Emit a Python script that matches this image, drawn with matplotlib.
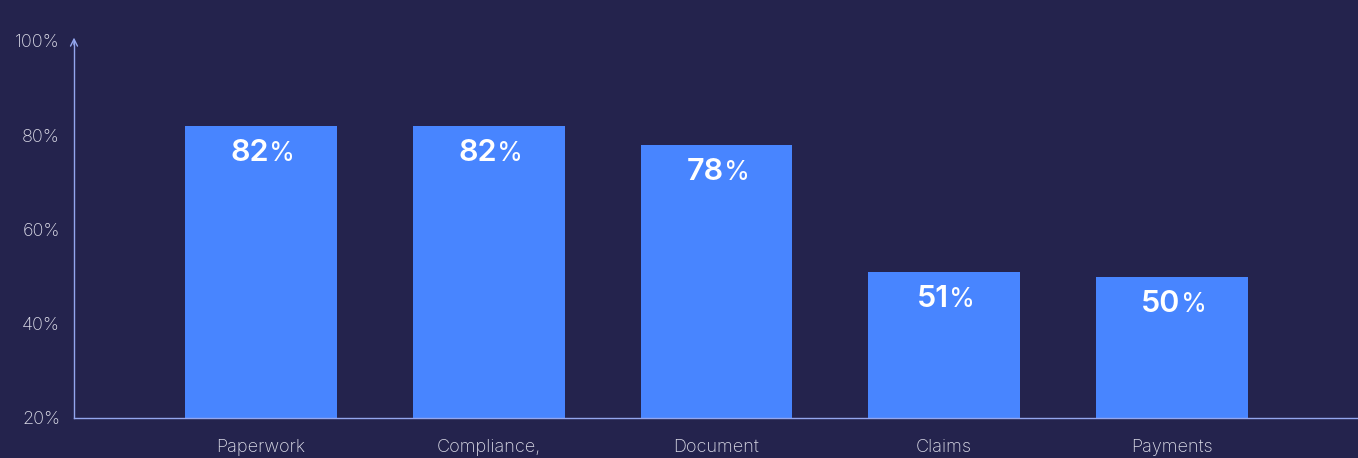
import matplotlib.pyplot as plt

categories = ["Paperwork", "Compliance,", "Document", "Claims", "Payments"]
shares = [82, 82, 78, 51, 50]
y_ticks = [20, 40, 60, 80, 100]

BG = "#24234d"
BAR = "#4885ff"
AXIS = "#94a6ee"
TICK = "#dcdce8"

plt.rcParams['font.family'] = ['Inter', 'DejaVu Sans']

fig = plt.figure(figsize=(13.58, 4.58), dpi=100, facecolor=BG)
ax = fig.add_axes([74 / 1358, 40 / 458, 1 - 74 / 1358, 377 / 458])
ax.set_facecolor(BG)

x = range(len(categories))
bars = ax.bar(x, shares, width=0.667, bottom=0, color=BAR, zorder=2)

ax.set_ylim(20, 100)
ax.set_xlim(-0.821, 4.817)
ax.set_yticks(y_ticks)
ax.set_yticklabels([f"{t}%" for t in y_ticks])
ax.set_xticks(list(x))
ax.set_xticklabels(categories)
ax.tick_params(axis='y', length=0, pad=10, labelsize=13, labelcolor=TICK)
ax.tick_params(axis='x', length=0, pad=15, labelsize=13, labelcolor=TICK)
for lab in ax.get_yticklabels() + ax.get_xticklabels():
    lab.set_fontweight('light')

for side in ('top', 'right'):
    ax.spines[side].set_visible(False)
for side in ('left', 'bottom'):
    ax.spines[side].set_color(AXIS)
    ax.spines[side].set_linewidth(1)

# open arrowhead on top of the y axis
ax.annotate('', xy=(0, 1.009), xytext=(0, 0.99), xycoords='axes fraction',
            arrowprops=dict(arrowstyle='->,head_length=0.5,head_width=0.25',
                            color=AXIS, lw=1, shrinkA=0, shrinkB=0),
            annotation_clip=False)

# value labels: bold number followed by a lighter percent sign
for i, v in zip(x, shares):
    num = ax.annotate(str(v), xy=(i, v), xytext=(-11, -13),
                      textcoords='offset pixels', ha='center', va='top',
                      color='white', fontsize=22, fontweight='semibold', zorder=3)
    ax.annotate('%', xy=(1, 0), xycoords=num, xytext=(0, 0),
                textcoords='offset pixels', ha='left', va='bottom',
                color='white', fontsize=19, zorder=3)

fig.savefig('out.png', dpi=100, facecolor=BG)
